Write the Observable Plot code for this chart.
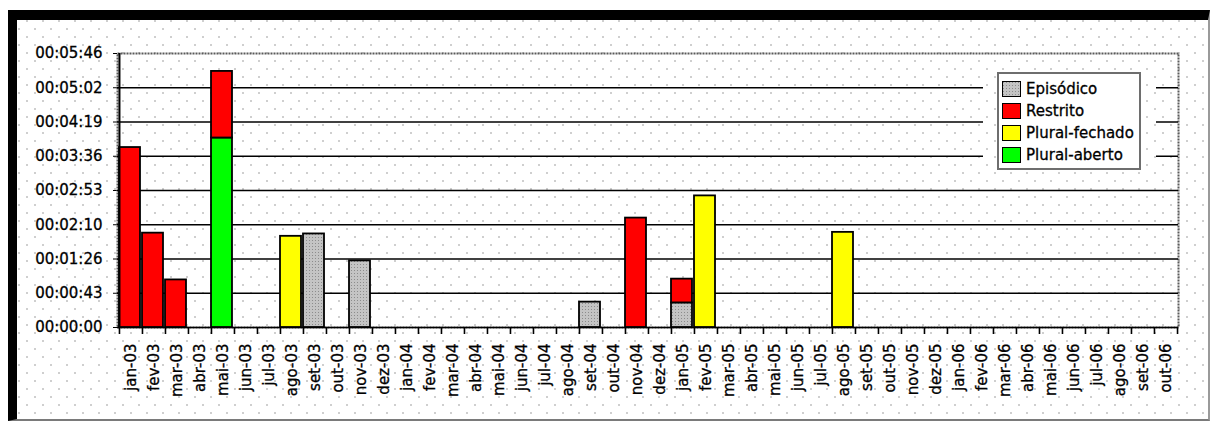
<!DOCTYPE html>
<html>
<head>
<meta charset="utf-8">
<script src="https://cdn.jsdelivr.net/npm/d3@7"></script>
<script src="https://cdn.jsdelivr.net/npm/@observablehq/plot@0.6"></script>
<style>
  html, body { margin: 0; padding: 0; background: #fff; }
  #chart { position: relative; width: 1210px; height: 423px; overflow: hidden; font-family: "DejaVu Sans", sans-serif; }
  .dots {
    background-color: #fff;
    background-image: url("data:image/svg+xml,%3Csvg xmlns='http://www.w3.org/2000/svg' width='16' height='16'%3E%3Crect x='2' y='12' width='2' height='2' fill='%23cfcfcf'/%3E%3Crect x='10' y='4' width='2' height='2' fill='%23cfcfcf'/%3E%3C/svg%3E");
    background-size: 16px 16px;
    background-attachment: fixed;
  }
  #frame {
    position: absolute; left: 8px; top: 10px; width: 1202px; height: 411px; box-sizing: border-box;
    border-top: 10px solid #000; border-left: 9px solid #000;
    border-bottom: 2px solid #7a7a7a; border-right: 2px solid #9a9a9a;
  }
  #chart > svg { position: absolute; left: 0; top: 0; }
  #chart > svg text { stroke: #000; stroke-width: 0.3px; }
  #legend-area { position: absolute; left: 983px; top: 58px; width: 173px; height: 126px; }
  #legend {
    position: absolute; left: 14px; top: 14px; width: 144px; height: 98px; box-sizing: border-box;
    border: 2px solid #6e6e6e; background: #fff; padding: 4px 0 0 3px;
  }
  .item { display: flex; align-items: center; height: 22px; font-size: 15px; color: #000; white-space: nowrap; -webkit-text-stroke: 0.3px #000; }
  .swatch { width: 19px; height: 16px; box-sizing: border-box; border: 1.5px solid #000; margin-right: 5px; flex: none; }
</style>
</head>
<body>
<div id="chart">
  <div id="frame" class="dots"></div>
</div>
<script>
// Monthly categories, Jan 2003 – Oct 2006
const months = [
  "jan-03","fev-03","mar-03","abr-03","mai-03","jun-03","jul-03","ago-03","set-03","out-03","nov-03","dez-03",
  "jan-04","fev-04","mar-04","abr-04","mai-04","jun-04","jul-04","ago-04","set-04","out-04","nov-04","dez-04",
  "jan-05","fev-05","mar-05","abr-05","mai-05","jun-05","jul-05","ago-05","set-05","out-05","nov-05","dez-05",
  "jan-06","fev-06","mar-06","abr-06","mai-06","jun-06","jul-06","ago-06","set-06","out-06"
];

// Duration per month, in seconds, one array per category
const episodico = [
  0,0,0,0,0,0,0,0,118,0,84,0,
  0,0,0,0,0,0,0,0,32,0,0,0,
  31,0,0,0,0,0,0,0,0,0,0,0,
  0,0,0,0,0,0,0,0,0,0
];
const restrito = [
  227,119,60,0,84,0,0,0,0,0,0,0,
  0,0,0,0,0,0,0,0,0,0,138,0,
  30,0,0,0,0,0,0,0,0,0,0,0,
  0,0,0,0,0,0,0,0,0,0
];
const pluralFechado = [
  0,0,0,0,0,0,0,115,0,0,0,0,
  0,0,0,0,0,0,0,0,0,0,0,0,
  0,166,0,0,0,0,0,120,0,0,0,0,
  0,0,0,0,0,0,0,0,0,0
];
const pluralAberto = [
  0,0,0,0,239,0,0,0,0,0,0,0,
  0,0,0,0,0,0,0,0,0,0,0,0,
  0,0,0,0,0,0,0,0,0,0,0,0,
  0,0,0,0,0,0,0,0,0,0
];

// Legend order and fills
const seriesNames = ["Episódico", "Restrito", "Plural-fechado", "Plural-aberto"];
const seriesFills = ["url(#episodico-fill)", "#ff0000", "#ffff00", "#00ff00"];

// Y axis: hh:mm:ss ticks
const yMax = 345.6;
const yTickSeconds = [0, 43.2, 86.4, 129.6, 172.8, 216, 259.2, 302.4, 345.6];
const yTickLabels = ["00:00:00","00:00:43","00:01:26","00:02:10","00:02:53","00:03:36","00:04:19","00:05:02","00:05:46"];

// Long table, stacked bottom to top in this order
const stackOrder = [
  ["Episódico", episodico],
  ["Plural-aberto", pluralAberto],
  ["Plural-fechado", pluralFechado],
  ["Restrito", restrito]
];
const rows = [];
months.forEach((m, i) => {
  for (const [name, values] of stackOrder) {
    if (values[i] > 0) rows.push({month: m, series: name, seconds: values[i]});
  }
});

const W = 1210, H = 423, mL = 117, mR = 32, mT = 53, mB = 96;
const bw = (W - mL - mR) / months.length;

const node = Plot.plot({
  width: W, height: H,
  marginLeft: mL, marginRight: mR, marginTop: mT, marginBottom: mB,
  style: {background: "transparent", fontFamily: "'DejaVu Sans', sans-serif", fontSize: "15px", color: "#000"},
  x: {type: "band", domain: months, padding: 0, label: null, tickSize: 0, tickRotate: -90, tickPadding: 16},
  y: {domain: [0, yMax], ticks: yTickSeconds, tickFormat: d => yTickLabels[yTickSeconds.indexOf(d)], tickSize: 4, tickPadding: 11, label: null},
  color: {domain: seriesNames, range: seriesFills},
  marks: [
    Plot.frame({stroke: "#5a5a5a", strokeWidth: 2, strokeDasharray: "2,1"}),
    Plot.ruleY(yTickSeconds.filter(v => v < yMax), {stroke: "#000", strokeWidth: 1.7}),
    Plot.barY(rows, {x: "month", y: "seconds", fill: "series", stroke: "#000", strokeWidth: 1.8, insetRight: 2}),
    Plot.ruleX([months[0]], {dx: -bw / 2, stroke: "#000", strokeWidth: 2}),
    Plot.ruleX(months, {dx: -bw / 2, y1: 0, y2: 0, insetBottom: -7, stroke: "#000", strokeWidth: 1.6}),
    Plot.ruleX([months[months.length - 1]], {dx: bw / 2, y1: 0, y2: 0, insetBottom: -7, stroke: "#000", strokeWidth: 1.6})
  ]
});

const svgEl = node.tagName.toLowerCase() === "svg" ? node : node.querySelector("svg");
// Stippled grey fill for the Episódico bars
const pat = d3.select(svgEl).insert("defs", ":first-child")
  .append("pattern").attr("id", "episodico-fill")
  .attr("patternUnits", "userSpaceOnUse").attr("width", 3).attr("height", 3);
pat.append("rect").attr("width", 3).attr("height", 3).attr("fill", "#c4c4c4");
pat.append("rect").attr("width", 1).attr("height", 1).attr("fill", "#8c8c8c");

const chart = document.getElementById("chart");
chart.appendChild(node);

// Legend box, drawn over the gridlines
const area = d3.select(chart).append("div").attr("id", "legend-area").attr("class", "dots");
const legend = area.append("div").attr("id", "legend");
const epSwatch = "url(\"data:image/svg+xml,%3Csvg xmlns='http://www.w3.org/2000/svg' width='3' height='3'%3E%3Crect width='3' height='3' fill='%23c4c4c4'/%3E%3Crect width='1' height='1' fill='%238c8c8c'/%3E%3C/svg%3E\")";
seriesNames.forEach((name, i) => {
  const item = legend.append("div").attr("class", "item");
  const sw = item.append("div").attr("class", "swatch");
  if (seriesFills[i].startsWith("url")) sw.style("background", epSwatch);
  else sw.style("background", seriesFills[i]);
  item.append("span").text(name);
});
</script>
</body>
</html>
